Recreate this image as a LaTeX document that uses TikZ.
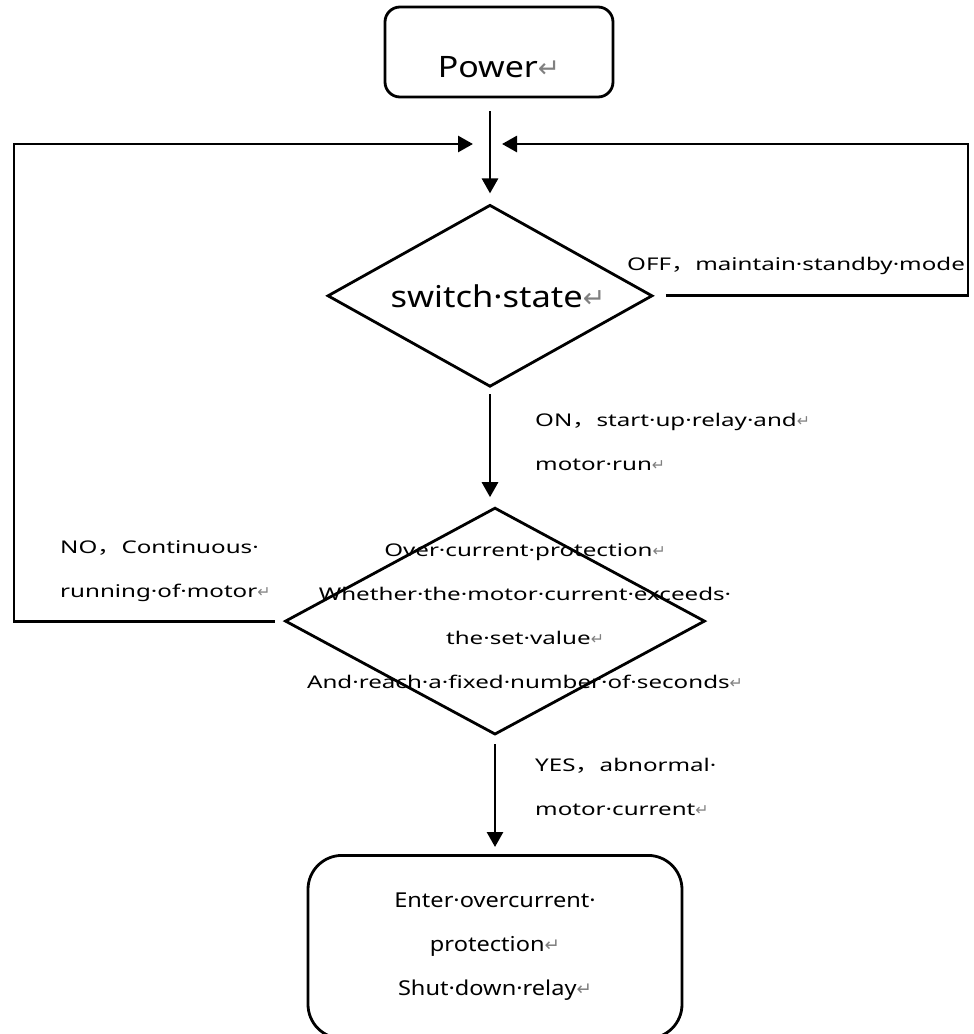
\documentclass[tikz,border=0pt]{standalone}
\usepackage{fontspec}
\setmainfont{Noto Sans}[FakeStretch=1.15]
\newfontfamily\notefont{Noto Sans}[FakeStretch=1.38]
\newfontfamily\cjkfont{Noto Sans CJK SC}[FakeStretch=1.38]
\newfontfamily\markfont{DejaVu Sans}
\usepackage{graphicx}
\usetikzlibrary{positioning}
\usetikzlibrary{shapes.geometric,arrows.meta}

\newcommand{\pmark}{{\markfont\color{gray}\scalebox{0.9}{↵}}}
\newcommand{\fwc}{{\cjkfont ，}}

\begin{document}
\begin{tikzpicture}[x=1pt, y=-1pt,
  startbox/.style={draw, line width=2.8pt, rounded corners=15pt, inner sep=0pt},
  endbox/.style={draw, line width=2.8pt, rounded corners=34pt, inner sep=0pt, align=center},
  decision/.style={draw, diamond, line width=2.8pt, inner sep=0pt},
  note/.style={inner sep=0pt, align=left, font=\notefont\fontsize{17.5pt}{44pt}\selectfont},
  flow/.style={draw, line width=2.8pt, -{Triangle[length=15pt,width=16pt]}}]
\useasboundingbox (0,0) rectangle (974,1034);

% nodes %

\node[startbox, minimum width=228pt, minimum height=90pt, text height=51pt, text depth=0pt, font=\fontsize{29.5pt}{36pt}\selectfont] (power) at (499,52) {Power\pmark};
\node[decision, below = 105pt of power, xshift=-9pt, minimum width=325pt, minimum height=182pt, aspect=1.79, font=\fontsize{30pt}{36pt}\selectfont] (q1) {\hspace*{16pt}switch·state\pmark};
\node[decision, below = 118pt of q1, xshift=5pt, minimum width=420pt, minimum height=227pt, aspect=1.85] (q2) {};
\node[note, align=center, xshift=30pt, yshift=5pt] (q2text) at (q2) {Over·current·protection\pmark\\Whether·the·motor·current·exceeds·\\the·set·value\pmark\\And·reach·a·fixed·number·of·seconds\pmark};
\node[endbox, below = 118pt of q2, minimum width=374pt, minimum height=183pt, font=\fontsize{20.5pt}{44pt}\selectfont] (stop) {Enter·overcurrent·\\protection\pmark\\Shut·down·relay\pmark};

\node[note, anchor=west] (offlabel) at (627,266) {OFF\fwc{}maintain·standby·mode};
\node[note, anchor=west] (onlabel) at (535,442) {ON\fwc{}start·up·relay·and\pmark\\motor·run\pmark};
\node[note, anchor=west] (nolabel) at (60,571) {NO\fwc{}Continuous·\\running·of·motor\pmark};
\node[note, anchor=west] (yeslabel) at (535,787) {YES\fwc{}abnormal·\\motor·current\pmark};

\coordinate (join) at (490,144);
\coordinate (leftturn) at (14,144);
\coordinate (rightturn) at (968,144);

% edges %
\draw[flow, shorten <=13pt, shorten >=10pt] (power.south -| q1.north) -- (q1.north);
\draw[flow, shorten <=9pt, shorten >=17pt] (q2.west) -| (leftturn) -- (join);
\draw[flow, shorten <=12pt, shorten >=12pt] (q1.east) -| (rightturn) -- (join);
\draw[flow, shorten <=6pt, shorten >=9pt] (q1.south) -- (q1.south |- q2.north);
\draw[flow, shorten <=8pt, shorten >=7pt] (q2.south) -- (q2.south |- stop.north);

\end{tikzpicture}
\end{document}
